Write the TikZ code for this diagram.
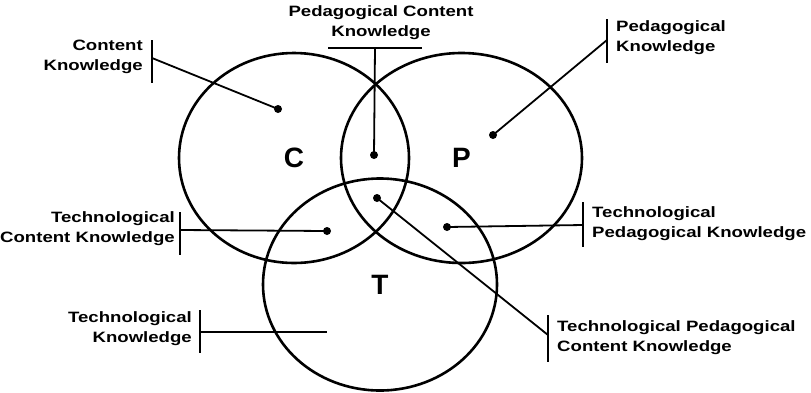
\documentclass[tikz,border=0pt]{standalone}
\usepackage{fontspec}
\setmainfont{Liberation Sans}[FakeStretch=1.24]
\newfontfamily\letterfont{Liberation Sans}
\usetikzlibrary{shapes.geometric}
\tikzset{
  venn/.style={ellipse, draw, line width=2.6pt, inner sep=0pt,
    font=\letterfont\bfseries\fontsize{28}{28}\selectfont},
  lbl/.style={font=\bfseries\fontsize{15}{20}\selectfont, inner sep=0pt},
  dot/.style={circle, fill, inner sep=0pt, minimum size=8pt},
  labelbar/.style={line width=2.2pt},
  conn/.style={line width=1.8pt},
}
\begin{document}
\begin{tikzpicture}[x=1pt,y=-1pt]
\useasboundingbox[fill=white] (0,0) rectangle (811,392);
% circles
\node[venn, minimum width=230pt, minimum height=210pt] (C) at (294,158) {C};
\node[venn, minimum width=241pt, minimum height=210pt] (P) at (461.5,158) {P};
\node[venn, minimum width=234pt, minimum height=212pt] (T) at (380,284.5) {T};
% dots
\node[dot] (ckd) at (278,109) {};
\node[dot] (pckd) at (374,155) {};
\node[dot] (pkd) at (493,135) {};
\node[dot] (tckd) at (327,231) {};
\node[dot] (tpkd) at (447,227) {};
\node[dot] (tpckd) at (377,198) {};
\coordinate (tkend) at (327,332);
% labels
\node[lbl, align=right, anchor=east] (ckl) at (143,57) {Content\\Knowledge};
\node[lbl, align=center] (pckl) at (381,23) {Pedagogical Content\\Knowledge};
\node[lbl, align=left, anchor=west] (pkl) at (616,38) {Pedagogical\\Knowledge};
\node[lbl, align=right, anchor=east] (tckl) at (175,229) {Technological\\Content Knowledge};
\node[lbl, align=right, anchor=east] (tkl) at (192,329) {Technological\\Knowledge};
\node[lbl, align=left, anchor=west] (tpkl) at (592,224) {Technological\\Pedagogical Knowledge};
\node[lbl, align=left, anchor=west] (tpckl) at (557,338) {Technological Pedagogical\\Content Knowledge};
% bars
\coordinate (ckb) at (152,58);
\draw[labelbar] (152,40) -- (152,83);
\coordinate (pckb) at (375,48);
\draw[labelbar] (328,48) -- (422,48);
\coordinate (pkb) at (607,40);
\draw[labelbar] (607,19) -- (607,63);
\coordinate (tckb) at (180,230);
\draw[labelbar] (180,212) -- (180,255);
\coordinate (tkb) at (200,332);
\draw[labelbar] (200,310) -- (200,353);
\coordinate (tpkb) at (583,225);
\draw[labelbar] (583,202) -- (583,247);
\coordinate (tpckb) at (548,335);
\draw[labelbar] (548,315) -- (548,362);
% connectors
\draw[conn] (ckb) -- (ckd.center);
\draw[conn] (pckb) -- (pckd.center);
\draw[conn] (pkb) -- (pkd.center);
\draw[conn] (tckb) -- (tckd.center);
\draw[conn] (tkb) -- (tkend);
\draw[conn] (tpkb) -- (tpkd.center);
\draw[conn] (tpckb) -- (tpckd.center);
\end{tikzpicture}
\end{document}
